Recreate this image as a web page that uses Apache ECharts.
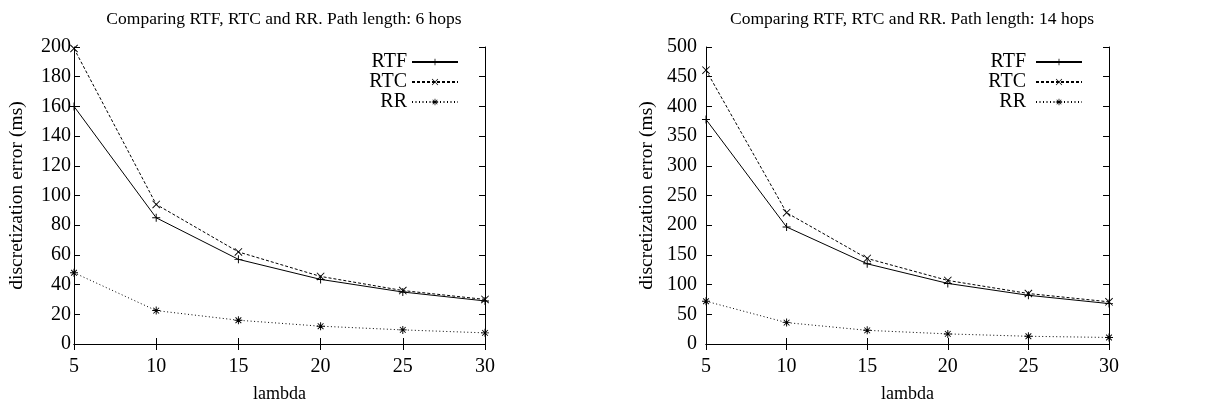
<!DOCTYPE html>
<html>
<head>
<meta charset="utf-8">
<script src="https://cdn.jsdelivr.net/npm/echarts@6/dist/echarts.min.js"></script>
<style>
html, body { margin: 0; padding: 0; background: #fff; }
#chart { width: 1212px; height: 404px; }
</style>
</head>
<body>
<div id="chart"></div>
<script>
var lambda = [5, 10, 15, 20, 25, 30];

// 6 hops
var rtf6 = [160, 85, 57, 43.5, 35, 29];
var rtc6 = [199, 94, 62, 45.5, 36, 30];
var rr6 = [48, 22.5, 16, 12, 9.5, 7.5];

// 14 hops
var rtf14 = [378, 197, 135, 102, 82, 68];
var rtc14 = [461, 221, 144, 107, 85, 71];
var rr14 = [72, 36, 23, 17, 13, 11];

var font = 'Liberation Serif';
var black = '#000';

// gnuplot style point markers
var plusPath = 'path://M-0.6,-5 h1.2 v4.4 h4.4 v1.2 h-4.4 v4.4 h-1.2 v-4.4 h-4.4 v-1.2 h4.4 z';
var crossPath = 'path://M-5,-4.2 L-4.2,-5 L5,4.2 L4.2,5 Z M4.2,-5 L5,-4.2 L-4.2,5 L-5,4.2 Z';
var starPath = 'path://M-0.6,-5 h1.2 v4.4 h4.4 v1.2 h-4.4 v4.4 h-1.2 v-4.4 h-4.4 v-1.2 h4.4 z M-4,-3.2 L-3.2,-4 L4,3.2 L3.2,4 Z M3.2,-4 L4,-3.2 L-3.2,4 L-4,3.2 Z';

function pairs(ys) {
	var out = [];
	for (var i = 0; i < lambda.length; i++) {
		out.push([lambda[i], ys[i]]);
	}
	return out;
}

function lineSeries(name, ys, idx, symbol, dash) {
	return {
		name: name,
		type: 'line',
		xAxisIndex: idx * 2,
		yAxisIndex: idx * 2,
		data: pairs(ys),
		symbol: symbol,
		symbolSize: 8,
		showAllSymbol: true,
		animation: false,
		itemStyle: { color: black },
		lineStyle: { color: black, width: 1, type: dash }
	};
}

var grids = [
	{ left: 74, top: 47, width: 411, height: 297, outerBoundsMode: 'none', containLabel: false },
	{ left: 706, top: 47, width: 403, height: 297, outerBoundsMode: 'none', containLabel: false }
];

function xAxes(gi) {
	var base = {
		type: 'value',
		gridIndex: gi,
		min: 5,
		max: 30,
		interval: 5,
		axisLine: { show: true, lineStyle: { color: black, width: 1 } },
		axisTick: { show: true, inside: true, length: 6, lineStyle: { color: black } },
		splitLine: { show: false }
	};
	var bottom = Object.assign({}, base, {
		position: 'bottom',
		name: 'lambda',
		nameLocation: 'middle',
		nameGap: 41,
		nameTextStyle: { fontFamily: font, fontSize: 18, color: black },
		axisLabel: { fontFamily: font, fontSize: 20, color: black, margin: 13 }
	});
	var top = Object.assign({}, base, {
		position: 'top',
		axisLabel: { show: false }
	});
	return [bottom, top];
}

function yAxes(gi, max, step, gap, labelGap) {
	var base = {
		type: 'value',
		gridIndex: gi,
		min: 0,
		max: max,
		interval: step,
		axisLine: { show: true, lineStyle: { color: black, width: 1 } },
		axisTick: { show: true, inside: true, length: 6, lineStyle: { color: black } },
		splitLine: { show: false }
	};
	var left = Object.assign({}, base, {
		position: 'left',
		name: 'discretization error (ms)',
		nameLocation: 'middle',
		nameGap: gap,
		nameTextStyle: { fontFamily: font, fontSize: 19.5, color: black },
		axisLabel: { fontFamily: font, fontSize: 20, color: black, margin: labelGap }
	});
	var right = Object.assign({}, base, {
		position: 'right',
		axisLabel: { show: false }
	});
	return [left, right];
}

function legendFor(gi, rightPx) {
	return {
		orient: 'vertical',
		right: rightPx,
		top: 47,
		align: 'right',
		itemWidth: 46,
		itemHeight: 8,
		itemGap: 0,
		textStyle: { fontFamily: font, fontSize: 20, color: black },
		data: gi === 0 ? ['RTF', 'RTC', 'RR'] : ['RTF ', 'RTC ', 'RR ']
	};
}

var option = {
	animation: false,
	backgroundColor: '#fff',
	title: [
		{ text: 'Comparing RTF, RTC and RR. Path length: 6 hops', left: 279, top: 5, textAlign: 'center',
			textStyle: { fontFamily: font, fontSize: 17.5, fontWeight: 'normal', color: black } },
		{ text: 'Comparing RTF, RTC and RR. Path length: 14 hops', left: 907, top: 5, textAlign: 'center',
			textStyle: { fontFamily: font, fontSize: 17.5, fontWeight: 'normal', color: black } }
	],
	grid: grids,
	xAxis: xAxes(0).concat(xAxes(1)),
	yAxis: yAxes(0, 200, 20, 47, 3).concat(yAxes(1, 500, 50, 49, 9)),
	legend: [legendFor(0, 1212 - 464), legendFor(1, 1212 - 1088)],
	series: [
		lineSeries('RTF', rtf6, 0, plusPath, 'solid'),
		lineSeries('RTC', rtc6, 0, crossPath, [3, 2]),
		lineSeries('RR', rr6, 0, starPath, [1, 2.5]),
		lineSeries('RTF ', rtf14, 1, plusPath, 'solid'),
		lineSeries('RTC ', rtc14, 1, crossPath, [3, 2]),
		lineSeries('RR ', rr14, 1, starPath, [1, 2.5])
	]
};

var chart = echarts.init(document.getElementById('chart'), null, { renderer: 'canvas' });
chart.setOption(option);
</script>
</body>
</html>
